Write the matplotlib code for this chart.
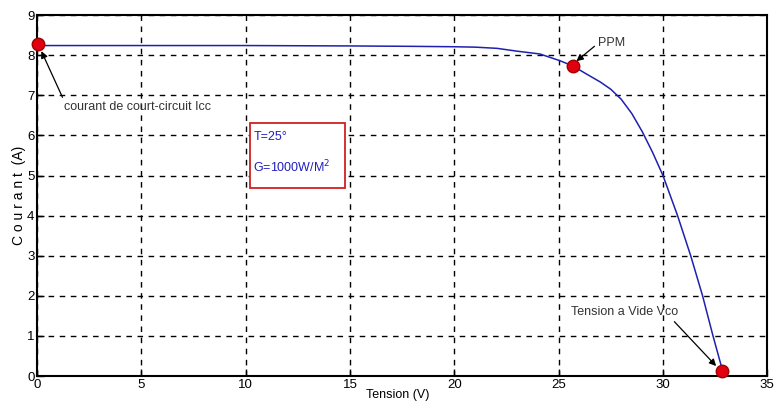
import matplotlib
matplotlib.use("Agg")
import matplotlib.pyplot as plt
from matplotlib.patches import Rectangle

# I-V curve of the PV panel
tension = [0.0, 5.0, 10.0, 15.0, 18.0, 20.0, 21.0, 22.05, 23.0, 24.1, 25.07, 25.68,
           26.5, 27.0, 27.5, 28.0, 28.5, 29.0, 29.5, 30.0, 30.35, 30.7, 31.33, 31.9,
           32.4, 32.85]
courant = [8.24, 8.24, 8.24, 8.23, 8.22, 8.21, 8.2, 8.17, 8.1, 8.03, 7.86, 7.73,
           7.48, 7.33, 7.15, 6.9, 6.55, 6.1, 5.58, 5.0, 4.5, 4.0, 3.0, 2.0,
           1.0, 0.15]

# remarkable points: Icc, PPM, Vco
pts_v = [0.05, 25.68, 32.85]
pts_i = [8.27, 7.73, 0.12]

xticks = [0, 5, 10, 15, 20, 25, 30, 35]
yticks = [0, 1, 2, 3, 4, 5, 6, 7, 8, 9]

plt.rcParams["font.family"] = ["Liberation Sans", "DejaVu Sans"]

fig = plt.figure(figsize=(7.75, 4.07), dpi=100)
ax = fig.add_axes([0.048, 0.076, 0.942, 0.887])

ax.plot(tension, courant, color="#2020b0", lw=1.1, zorder=3)
ax.plot(pts_v, pts_i, "o", ls="none", ms=9, mfc="#e00010", mec="#a00000", mew=1, zorder=5, clip_on=False)

ax.set_xlim(0, 35)
ax.set_ylim(0, 9)
ax.set_xticks(xticks)
ax.set_yticks(yticks)
ax.tick_params(direction="in", length=5, width=1, labelsize=9.5, pad=2)
ax.grid(True, color="black", ls=(0, (4, 4)), lw=1.0)
for s in ax.spines.values():
    s.set_linewidth(1.5)

ax.set_ylabel("C o u r a n t  (A)", fontsize=10, labelpad=1)
ax.text(15.75, -0.32, "Tension (V)", fontsize=9, ha="left", va="top")

gray = "#333333"
ax.annotate("courant de court-circuit Icc", xy=(0.2, 8.1), xytext=(1.3, 6.7),
            fontsize=9, color=gray, ha="left", va="center",
            arrowprops=dict(arrowstyle="-|>", color="black", lw=0.9, shrinkA=1, shrinkB=0,
                            mutation_scale=10, relpos=(0.0, 1.0)))
ax.annotate("PPM", xy=(25.85, 7.85), xytext=(26.9, 8.3),
            fontsize=9, color=gray, ha="left", va="center",
            arrowprops=dict(arrowstyle="-|>", color="black", lw=0.9, shrinkA=1, shrinkB=0,
                            mutation_scale=10, relpos=(0.0, 0.5)))
ax.annotate("Tension a Vide Vco", xy=(32.55, 0.25), xytext=(25.6, 1.6),
            fontsize=9, color=gray, ha="left", va="center",
            arrowprops=dict(arrowstyle="-|>", color="black", lw=0.9, shrinkA=1, shrinkB=0,
                            mutation_scale=10, relpos=(0.93, 0.0)))

ax.add_patch(Rectangle((10.21, 4.69), 4.55, 1.62, fc="white", ec="#d02020", lw=1.3, zorder=6))
ax.text(10.36, 5.96, "T=25°", fontsize=9, color="#2020c0", ha="left", va="center", zorder=7)
ax.text(10.36, 5.21, "G=1000W/M$^2$", fontsize=9, color="#2020c0", ha="left", va="center", zorder=7)

fig.savefig("out.png", dpi=100)
